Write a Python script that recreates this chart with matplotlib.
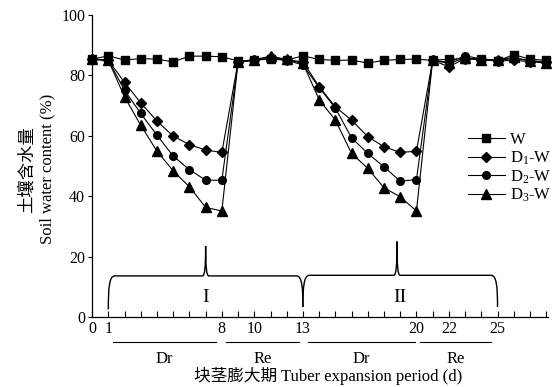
import matplotlib
matplotlib.use("Agg")
import matplotlib.pyplot as plt
from matplotlib.path import Path
from matplotlib.patches import PathPatch
import numpy as np

plt.rcParams['font.family'] = ['Liberation Serif', 'Noto Sans CJK SC']
plt.rcParams['mathtext.fontset'] = 'custom'
plt.rcParams['mathtext.rm'] = 'Liberation Serif'
plt.rcParams['mathtext.it'] = 'Liberation Serif:italic'

days = list(range(0, 29))
W = [85.4, 86.5, 85.1, 85.6, 85.4, 84.5, 86.4, 86.4, 86.2, 84.8, 85.1, 85.4, 85.1, 86.5, 85.3,
     85.0, 85.1, 84.1, 85.0, 85.3, 85.4, 85.0, 85.4, 85.6, 85.6, 84.8, 86.9, 85.4, 85.0]
D1 = [85.4, 85.0, 77.7, 70.9, 64.9, 59.9, 57.1, 55.3, 54.5, 84.5, 85.0, 86.2, 85.2, 84.5, 76.3,
      69.6, 65.2, 59.7, 56.4, 54.5, 54.9, 85.0, 82.9, 85.6, 85.2, 84.8, 85.0, 84.6, 84.3]
D2 = [85.4, 85.0, 75.1, 67.4, 60.2, 53.3, 48.8, 45.3, 45.3, 84.5, 85.0, 85.8, 85.0, 83.5, 76.0,
      69.2, 59.3, 54.2, 49.7, 45.0, 45.5, 85.0, 84.4, 86.5, 85.5, 85.0, 85.6, 85.0, 84.3]
D3 = [85.4, 85.0, 72.9, 63.5, 54.9, 48.4, 43.1, 36.3, 35.1, 84.5, 85.2, 86.4, 85.3, 84.0, 72.0,
      65.2, 54.2, 49.2, 42.8, 39.8, 35.1, 85.0, 84.0, 85.8, 85.0, 85.2, 86.0, 84.8, 84.0]
series_labels = ['W', r'D$_\mathrm{1}$-W', r'D$_\mathrm{2}$-W', r'D$_\mathrm{3}$-W']
xtick_labels = {0: '0', 1: '1', 8: '8', 10: '10', 13: '13', 20: '20', 22: '22', 25: '25'}
phase_labels = ['Dr', 'Re', 'Dr', 'Re']
phase_spans = [(1.3, 7.65), (8.25, 12.75), (13.3, 19.9), (20.2, 24.6)]

fig = plt.figure(figsize=(5.55, 3.87), dpi=100)
ax = fig.add_axes([0.166, 0.181, 0.821, 0.780])

markers = ['s', 'D', 'o', '^']
sizes = [5.5, 5.0, 5.5, 6.5]
for ys, lab, m, s in zip([W, D1, D2, D3], series_labels, markers, sizes):
    ax.plot(days, ys, color='black', lw=0.8, marker=m, markersize=s, label=lab, clip_on=False, zorder=3)

ax.set_xlim(0, 28.1)
ax.set_ylim(0, 100)
ax.set_yticks([0, 20, 40, 60, 80, 100])
ax.set_xticks(days)
ax.set_xticklabels([xtick_labels.get(d, '') for d in days])
ax.tick_params(axis='x', direction='in', length=4, width=0.8, labelsize=11.5, pad=3)
ax.tick_params(axis='y', direction='out', length=3, width=0.8, labelsize=11.5, pad=2)
for sp in ['top', 'right']:
    ax.spines[sp].set_visible(False)
for sp in ['left', 'bottom']:
    ax.spines[sp].set_linewidth(0.9)

# braces
def brace_path(x0, x1, xp, ylo0, ylo1, yh, ypk):
    verts = [(x0, ylo0), (x0, yh - 4), (x0 + 0.05, yh), (x0 + 0.4, yh),
             (xp - 0.2, yh),
             (xp - 0.05, yh), (xp, yh + 3), (xp, ypk),
             (xp, yh + 3), (xp + 0.05, yh), (xp + 0.2, yh),
             (x1 - 0.4, yh),
             (x1 - 0.05, yh), (x1, yh - 4), (x1, ylo1)]
    codes = [Path.MOVETO, Path.CURVE4, Path.CURVE4, Path.CURVE4,
             Path.LINETO,
             Path.CURVE4, Path.CURVE4, Path.CURVE4,
             Path.CURVE4, Path.CURVE4, Path.CURVE4,
             Path.LINETO,
             Path.CURVE4, Path.CURVE4, Path.CURVE4]
    return Path(verts, codes)

ax.add_patch(PathPatch(brace_path(1, 13, 7, 2.5, 3.3, 13.6, 23.5), fill=False, lw=1.0, color='black'))
ax.add_patch(PathPatch(brace_path(13, 25, 18.8, 3.3, 3.3, 13.8, 25.0), fill=False, lw=1.0, color='black'))
ax.text(7, 6.5, 'I', ha='center', va='center', fontsize=14)
ax.text(19, 6.5, 'II', ha='center', va='center', fontsize=14)

# phase lines below axis
trans = ax.get_xaxis_transform()
for (a, b), lab in zip(phase_spans, phase_labels):
    ax.plot([a, b], [-0.082, -0.082], transform=trans, color='black', lw=0.8, clip_on=False)
    ax.text((a + b) / 2, -0.138, lab, transform=trans, ha='center', va='center', fontsize=12)

fig.text(0.591, 0.028, '块茎膨大期 Tuber expansion period (d)', ha='center', va='center', fontsize=12)
fig.text(0.049, 0.563, '土壤含水量', rotation=90, ha='center', va='center', fontsize=12.5)
fig.text(0.085, 0.563, 'Soil water content (%)', rotation=90, ha='center', va='center', fontsize=12)

ax.legend(loc='upper left', bbox_to_anchor=(0.825, 0.612), frameon=False, fontsize=12,
          handlelength=2.2, handletextpad=0.3, labelspacing=0.08, borderpad=0, borderaxespad=0)

fig.savefig('out.png', dpi=100)
